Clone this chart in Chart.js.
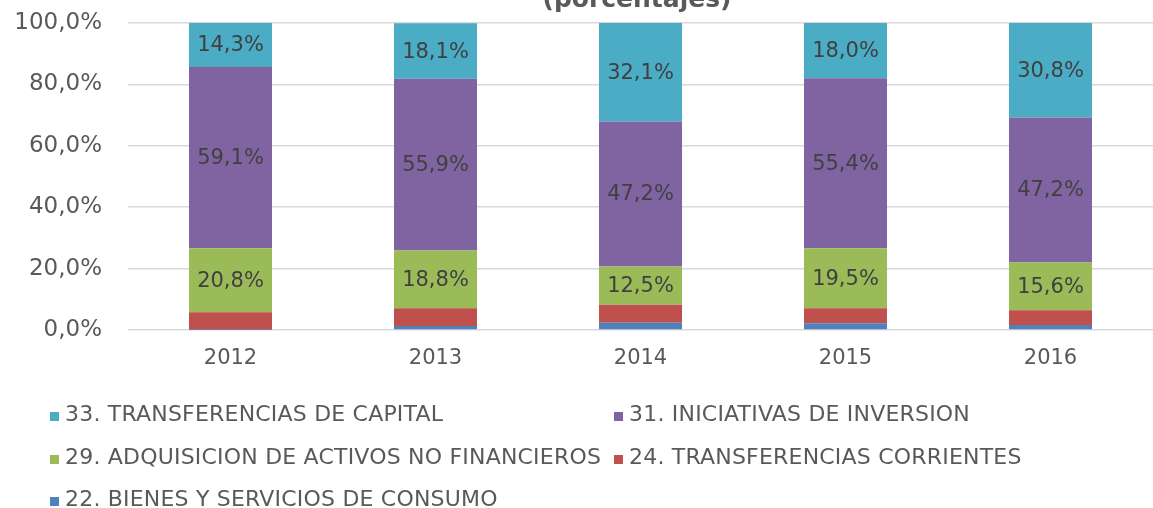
<!DOCTYPE html>
<html>
<head>
<meta charset="utf-8">
<script src="https://cdn.jsdelivr.net/npm/chart.js@4.4.1/dist/chart.umd.min.js"></script>
<style>
html, body { margin: 0; padding: 0; background: #fff; }
</style>
</head>
<body>
<canvas id="gastoChart" width="1153" height="508"></canvas>
<script>
// data (percent of total per year)
const years = ['2012', '2013', '2014', '2015', '2016'];
const bienes = [0.1, 1.3, 2.4, 2.2, 1.6];
const transfCorrientes = [5.7, 5.8, 5.8, 4.9, 4.8];
const activos = [20.8, 18.8, 12.5, 19.5, 15.6];
const iniciativas = [59.1, 55.9, 47.2, 55.4, 47.2];
const transfCapital = [14.3, 18.1, 32.1, 18.0, 30.8];
const yTicks = [0, 20, 40, 60, 80, 100];

const FONT = "Verdana, 'DejaVu Sans', sans-serif";
const GREY = '#595959';

function pct(v) {
    return v.toFixed(1).replace('.', ',') + '%';
}

// title is cut off at the top in the original
const titlePlugin = {
    id: 'cutTitle',
    afterDraw(chart) {
        const ctx = chart.ctx;
        ctx.save();
        ctx.font = 'bold 25px ' + FONT;
        ctx.fillStyle = GREY;
        ctx.textAlign = 'center';
        ctx.textBaseline = 'alphabetic';
        ctx.fillText('(porcentajes)', 637, 7);
        ctx.restore();
    }
};

// value labels in the middle of the three big segments
const labelPlugin = {
    id: 'segLabels',
    afterDatasetsDraw(chart) {
        const ctx = chart.ctx;
        ctx.save();
        ctx.font = '21px ' + FONT;
        ctx.fillStyle = '#404040';
        ctx.textAlign = 'center';
        ctx.textBaseline = 'middle';
        chart.data.datasets.forEach(function (ds, i) {
            if (!ds.showLabel) return;
            chart.getDatasetMeta(i).data.forEach(function (bar, j) {
                const y = (bar.y + bar.base) / 2;
                ctx.fillText(pct(ds.data[j]), bar.x, y + 1);
            });
        });
        ctx.restore();
    }
};

// two column legend under the chart
const legendPlugin = {
    id: 'gridLegend',
    afterDraw(chart) {
        const ctx = chart.ctx;
        const items = chart.data.datasets.slice().reverse();
        const colX = [50, 614];
        const rowY = [415, 458, 500];
        ctx.save();
        ctx.font = '22px ' + FONT;
        ctx.letterSpacing = '0.2px';
        ctx.textBaseline = 'middle';
        ctx.textAlign = 'left';
        items.forEach(function (ds, k) {
            const x = colX[k % 2];
            const y = rowY[Math.floor(k / 2)];
            ctx.fillStyle = ds.backgroundColor;
            ctx.fillRect(x, y - 3, 9, 9);
            ctx.fillStyle = GREY;
            ctx.fillText(ds.label, x + 15, y);
        });
        ctx.restore();
    }
};

const ctx = document.getElementById('gastoChart').getContext('2d');
const gastoChart = new Chart(ctx, {
    type: 'bar',
    data: {
        labels: years,
        datasets: [
            { label: '22. BIENES Y SERVICIOS DE CONSUMO', data: bienes, backgroundColor: '#4F81BD' },
            { label: '24. TRANSFERENCIAS CORRIENTES', data: transfCorrientes, backgroundColor: '#C0504D' },
            { label: '29. ADQUISICION DE ACTIVOS NO FINANCIEROS', data: activos, backgroundColor: '#9BBB59', showLabel: true },
            { label: '31. INICIATIVAS DE INVERSION', data: iniciativas, backgroundColor: '#8064A2', showLabel: true },
            { label: '33. TRANSFERENCIAS DE CAPITAL', data: transfCapital, backgroundColor: '#4BACC6', showLabel: true }
        ]
    },
    options: {
        responsive: false,
        animation: false,
        devicePixelRatio: 1,
        datasets: {
            bar: { categoryPercentage: 1, barPercentage: 0.405, borderWidth: 0 }
        },
        layout: { padding: { top: 23, right: 0, bottom: 130, left: 0 } },
        plugins: {
            legend: { display: false },
            tooltip: { enabled: false }
        },
        scales: {
            x: {
                stacked: true,
                grid: { display: false, drawTicks: false },
                border: { display: false },
                ticks: { color: GREY, font: { family: FONT, size: 21 }, padding: 16 },
                afterFit(scale) { scale.height = 48; }
            },
            y: {
                stacked: true,
                min: 0,
                max: 100,
                afterBuildTicks(scale) { scale.ticks = yTicks.map(v => ({ value: v })); },
                grid: { color: '#d9d9d9', lineWidth: 1.5, drawTicks: false },
                border: { display: false },
                ticks: { color: GREY, font: { family: FONT, size: 23 }, padding: 26, callback: v => pct(v) },
                afterFit(scale) {
                    scale.width = 128;
                    scale.paddingTop = 0;
                    scale.paddingBottom = 0;
                }
            }
        }
    },
    plugins: [titlePlugin, labelPlugin, legendPlugin]
});
</script>
</body>
</html>
